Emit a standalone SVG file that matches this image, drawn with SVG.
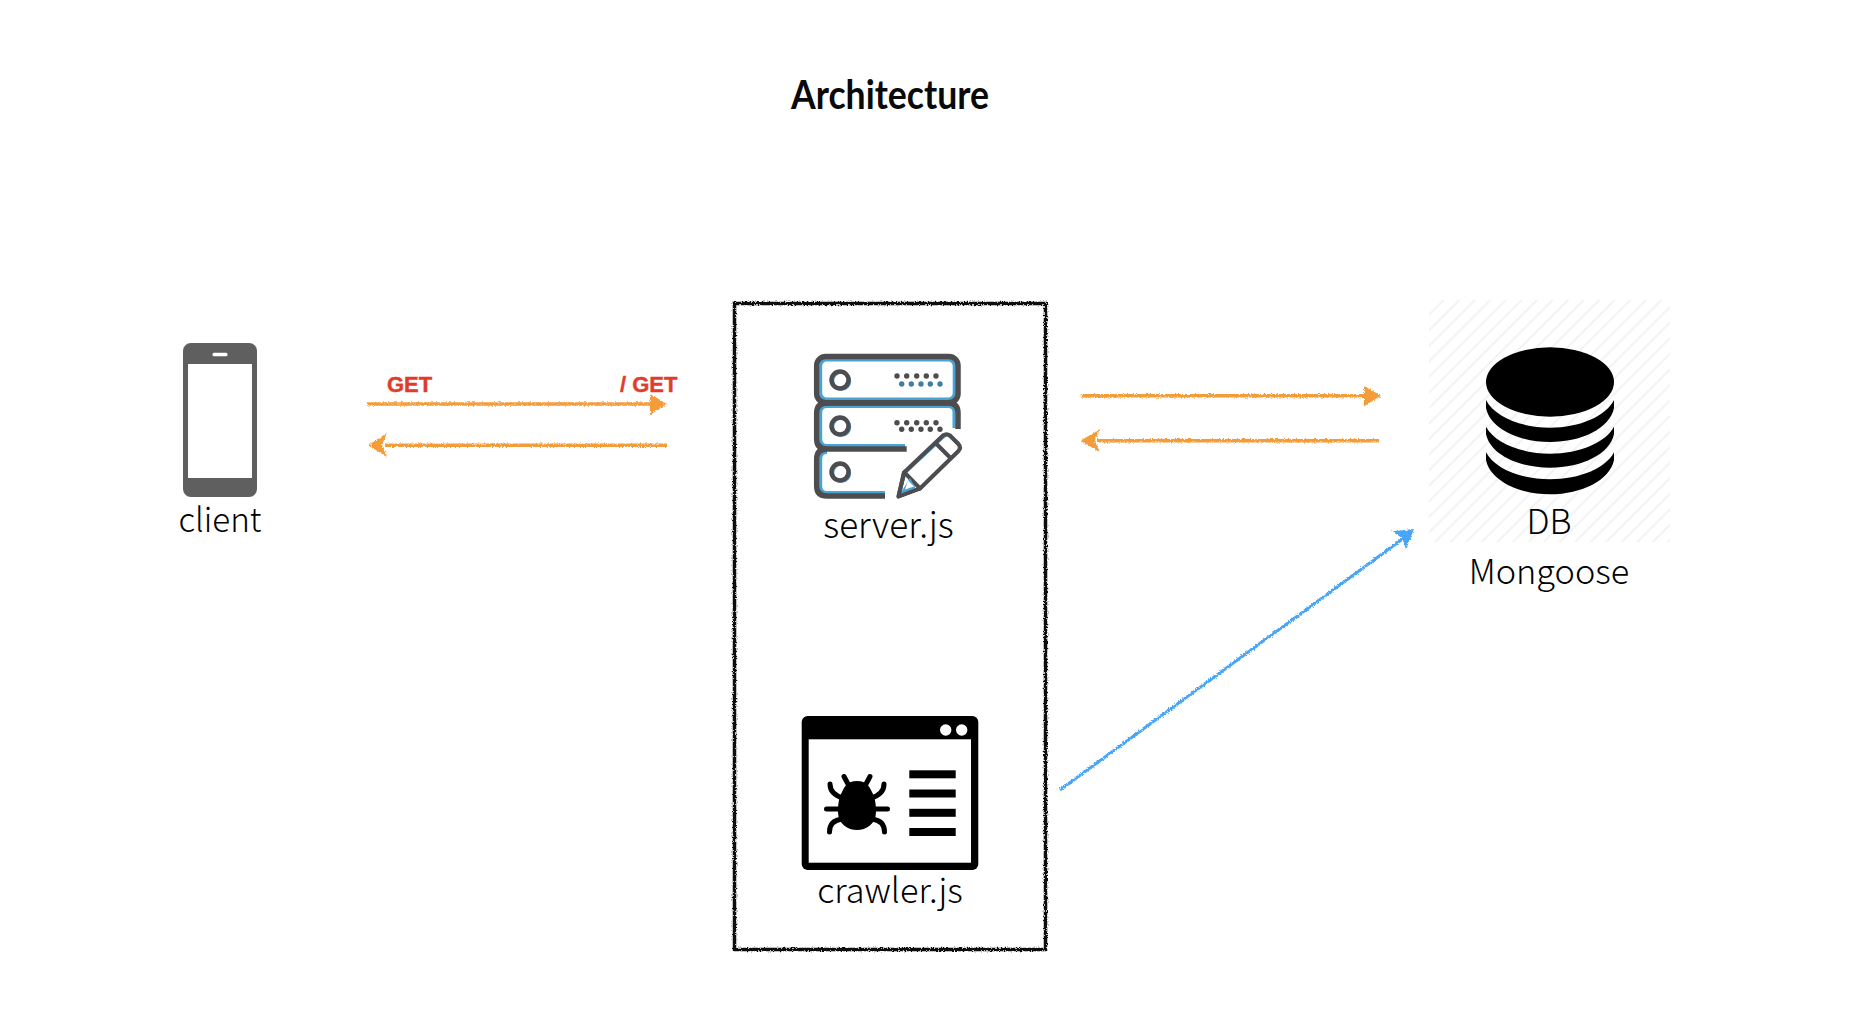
<svg xmlns="http://www.w3.org/2000/svg" width="1868" height="1028" viewBox="0 0 1868 1028">
<style>
.lbl{font-family:"Noto Sans CJK KR","Noto Sans",sans-serif;font-weight:300;font-size:34.300px;fill:#000;text-anchor:middle}
.get{font-family:"Liberation Sans",Arial,sans-serif;font-weight:700;font-size:22px;fill:#e03c2c;stroke:#e03c2c;stroke-width:0.400}
.dk{fill:none;stroke:#4d4d4f;stroke-width:5.500}
.bl{fill:none;stroke:#4aa3d5;stroke-width:3}
.or{fill:none;stroke:#f39c38;stroke-width:3.500}
.orh{fill:#f39c38}
.dot{fill:#4d4d4f}
</style>
<defs>
<filter id="rough" filterUnits="userSpaceOnUse" x="0" y="0" width="1868" height="1028">
<feTurbulence type="fractalNoise" baseFrequency="0.7" numOctaves="2" seed="3"/>
<feDisplacementMap in="SourceGraphic" scale="3.600" xChannelSelector="R" yChannelSelector="G"/>
</filter>
<pattern id="hatch" width="11" height="11" patternUnits="userSpaceOnUse" patternTransform="rotate(45)">
<rect width="11" height="11" fill="#fff"/>
<rect width="2" height="11" fill="#f3f3f3"/>
</pattern>
</defs>
<rect width="1868" height="1028" fill="#fff"/>
<text id="title" x="890" y="109" text-anchor="middle" textLength="198" lengthAdjust="spacingAndGlyphs" style="font-family:Lato,'Noto Sans',sans-serif;font-weight:700;font-size:40px;fill:#0a0a0a">Architecture</text>

<g id="client">
<rect x="183" y="343" width="74" height="154" rx="8" fill="#5f5f5f"/>
<rect x="188" y="364" width="64" height="114" fill="#fff"/>
<rect x="212.500" y="352.700" width="15" height="3.500" rx="1.500" fill="#fff"/>
<text class="lbl" x="220" y="532" style="font-size:33.200px">client</text>
</g>

<g id="container" filter="url(#rough)">
<rect x="734.500" y="303.500" width="311" height="646" fill="none" stroke="#111" stroke-width="3.500"/>
</g>

<g id="server">
<rect x="820.700" y="360" width="133.500" height="39" rx="6" class="bl"/>
<path class="bl" d="M954,428V412Q954,406.500 948,406.500H827Q820.700,406.500 820.700,413V439Q820.700,445.500 827,445.500H905"/>
<path class="bl" d="M827,452.500Q820.700,452.500 820.700,459V486Q820.700,492.500 827,492.500H885"/>
<rect x="816.700" y="356.500" width="141.300" height="46.200" rx="9" class="dk"/>
<path class="dk" d="M958,429V413Q958,403 948,403H827Q816.700,403 816.700,413V439Q816.700,449 827,449H906.700"/>
<path class="dk" d="M827,449Q816.700,449 816.700,459V486Q816.700,496 827,496H885"/>
<g fill="none" stroke-width="2.500">
<circle cx="841.500" cy="381" r="8.500" stroke="#4aa3d5"/><circle cx="841.500" cy="427" r="8.500" stroke="#4aa3d5"/><circle cx="841.500" cy="473" r="8.500" stroke="#4aa3d5"/>
</g>
<g fill="none" stroke="#4d4d4f" stroke-width="4.500">
<circle cx="840" cy="380" r="8.500"/><circle cx="840" cy="426" r="8.500"/><circle cx="840" cy="472" r="8.500"/>
</g>
<g class="dot">
<circle cx="897" cy="376" r="2.700"/><circle cx="906.700" cy="376" r="2.700"/><circle cx="916.700" cy="376" r="2.700"/><circle cx="926.300" cy="376" r="2.700"/><circle cx="936" cy="376" r="2.700"/>
<circle cx="897" cy="422.700" r="2.700"/><circle cx="906.700" cy="422.700" r="2.700"/><circle cx="916.700" cy="422.700" r="2.700"/><circle cx="926.300" cy="422.700" r="2.700"/><circle cx="936" cy="422.700" r="2.700"/>
<circle cx="901.700" cy="429.300" r="2.700"/><circle cx="911.300" cy="429.300" r="2.700"/><circle cx="921" cy="429.300" r="2.700"/><circle cx="930.300" cy="429.300" r="2.700"/><circle cx="940" cy="429.300" r="2.700"/>
</g>
<g fill="#3f7fa6">
<circle cx="901.700" cy="384" r="2.700"/><circle cx="911.300" cy="384" r="2.700"/><circle cx="921" cy="384" r="2.700"/><circle cx="930.300" cy="384" r="2.700"/><circle cx="940" cy="384" r="2.700"/>
</g>
<path d="M899,495L905,473L944,436.500Q947,434 950,436.500L958,444.500Q961,448 958,451L920,489Z" fill="#fff" stroke="#4aa3d5" stroke-width="3"/>
<path d="M898.500,496.500L904,472.500L943,435.500Q946.500,433 950,435.500L958.500,444Q961.500,447.500 958.500,451L920,488.500Z" fill="none" stroke="#4d4d4f" stroke-width="4" stroke-linejoin="round"/>
<path d="M936,443.500L951.500,459" stroke="#4d4d4f" stroke-width="4" fill="none"/>
<path d="M905,473L920,488.500" stroke="#4d4d4f" stroke-width="4" fill="none"/>
<path d="M910,478L898.500,496.500L917,491Z" fill="#4aa3d5"/>
<path d="M905,489.500L908,480.500L914,486.500Z" fill="#fff"/>
<path d="M898.500,496.500L904,472.500M898.500,496.500L920,488.500" stroke="#4d4d4f" stroke-width="4" fill="none" stroke-linecap="round"/>
<text class="lbl" x="888.500" y="538" style="font-size:35.200px">server.js</text>
</g>

<g id="crawler">
<rect x="801.700" y="716" width="176.600" height="154" rx="6" fill="#000"/>
<rect x="808.700" y="739.300" width="162.300" height="123.400" fill="#fff"/>
<circle cx="945.700" cy="730" r="5.700" fill="#fff"/><circle cx="961.700" cy="730" r="5.700" fill="#fff"/>
<rect x="909.300" y="770.300" width="46.400" height="8" fill="#000"/>
<rect x="909.300" y="789.500" width="46.400" height="8" fill="#000"/>
<rect x="909.300" y="808.800" width="46.400" height="8" fill="#000"/>
<rect x="909.300" y="828" width="46.400" height="8" fill="#000"/>
<path d="M857,781C847,781 845,786 842,792C838,799 838,808 838,812C838,824 848,830 857,830C866,830 876,824 876,812C876,808 876,799 872,792C869,786 867,781 857,781Z" fill="#000"/>
<path d="M844,776.500L848,784M870,776.500L866,784M830,784C830,792 836,796 843,798M884,784C884,792 878,796 871,798M826.500,809H887.500M829.500,832C829.500,824 834,820 842,819M884.500,832C884.500,824 880,820 872,819" fill="none" stroke="#000" stroke-width="5" stroke-linecap="round"/>
<text class="lbl" x="890" y="903">crawler.js</text>
</g>

<g id="db">
<rect x="1429" y="300" width="241" height="242" fill="url(#hatch)"/>
<ellipse cx="1550" cy="382" rx="64" ry="34.700" fill="#000"/>
<path d="M1486,400C1494,416 1520,427.700 1550,427.700C1580,427.700 1606,416 1614,400V408C1610,428 1582,442 1550,442C1518,442 1490,428 1486,408Z" fill="#000"/>
<path d="M1486,426.700C1494,442 1520,453.700 1550,453.700C1580,453.700 1606,442 1614,426.700V434C1610,454 1582,467.700 1550,467.700C1518,467.700 1490,454 1486,434Z" fill="#000"/>
<path d="M1486,452.300C1494,468 1520,479.300 1550,479.300C1580,479.300 1606,468 1614,452.300V460C1610,480 1582,494.300 1550,494.300C1518,494.300 1490,480 1486,460Z" fill="#000"/>
<text class="lbl" x="1549" y="534">DB</text>
<text class="lbl" x="1549" y="584">Mongoose</text>
</g>

<g id="connectors">
<g filter="url(#rough)">
<path class="or" d="M367,404H652"/>
<path class="orh" d="M650,394L667,404L650,415Z"/>
<path class="or" d="M667,445.300H385"/>
<path class="orh" d="M387,433L368,445.300L387,456.700L382,445Z"/>
<path class="or" d="M1081.600,395.700H1366"/>
<path class="orh" d="M1364,385.700L1381,395.700L1364,406.300Z"/>
<path class="or" d="M1379,440.700H1097"/>
<path class="orh" d="M1099.600,429.300L1080.400,440.700L1099.600,452L1095,440.700Z"/>
<path d="M1060,790L1408,535" fill="none" stroke="#4aa5f5" stroke-width="3"/>
<path d="M1414,529L1391.800,531.300L1402,538L1406,549.300Z" fill="#4aa5f5"/>
</g>
</g>

<text class="get" x="387" y="392">GET</text>
<text class="get" x="620" y="392">/ GET</text>
</svg>
